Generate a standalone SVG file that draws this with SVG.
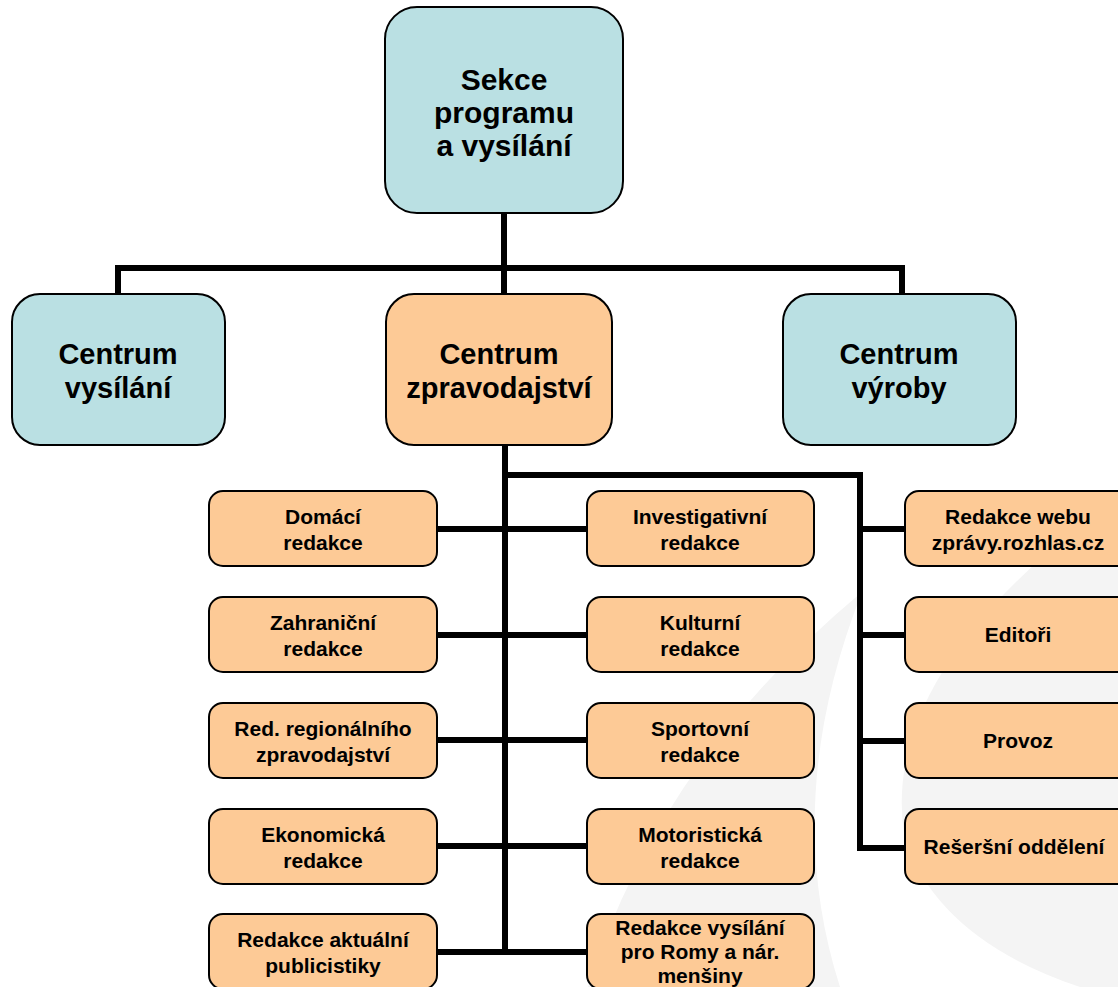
<svg xmlns="http://www.w3.org/2000/svg" width="1118" height="987" viewBox="0 0 1118 987">
<style>
.bg{fill:#f4f4f4;stroke:none}
.blue{fill:#bae0e3;stroke:#000;stroke-width:2}
.orange{fill:#fdca96;stroke:#000;stroke-width:2}
text{font-family:"Liberation Sans",Arial,sans-serif;font-weight:bold;fill:#000;text-anchor:middle}
.t1{font-size:30px}
.t2{font-size:29px}
.t3{font-size:21px}
.conn{fill:none;stroke:#000;stroke-width:6;stroke-linecap:butt;stroke-linejoin:miter}
</style>
<rect x="0" y="0" width="1118" height="987" fill="#fff"/>
<g id="watermark">
<path class="bg" d="M 862 592 Q 660 760 588 987 L 840 987 Q 780 800 862 592 Z"/>
<path class="bg" d="M 1045 555 Q 880 700 905 840 Q 940 940 1080 987 L 1118 987 L 1118 560 Z"/>
</g>
<g id="connectors">
<path class="conn" d="M 504 213 V 294 M 118 294 V 268 H 902 V 294"/>
<path class="conn" d="M 505 445 V 955 M 505 475 H 860 V 851"/>
<path class="conn" d="M 437 529 H 587 M 437 635 H 587 M 437 740 H 587 M 437 846 H 587 M 437 952 H 587"/>
<path class="conn" d="M 860 529 H 905 M 860 635 H 905 M 860 741 H 905 M 860 848 H 905"/>
</g>
<g id="n-sekce">
<rect class="blue" x="385" y="7" width="238" height="206" rx="32"/>
<text class="t1" x="504" y="90">Sekce</text>
<text class="t1" x="504" y="123">programu</text>
<text class="t1" x="504" y="156">a vysílání</text>
</g>
<g id="n-vysilani">
<rect class="blue" x="12" y="294" width="213" height="151" rx="28"/>
<text class="t2" x="118" y="364">Centrum</text>
<text class="t2" x="118" y="398">vysílání</text>
</g>
<g id="n-zpravodajstvi">
<rect class="orange" x="386" y="294" width="226" height="151" rx="28"/>
<text class="t2" x="499" y="364">Centrum</text>
<text class="t2" x="499" y="398">zpravodajství</text>
</g>
<g id="n-vyroby">
<rect class="blue" x="783" y="294" width="233" height="151" rx="28"/>
<text class="t2" x="899" y="364">Centrum</text>
<text class="t2" x="899" y="398">výroby</text>
</g>
<g id="n-domaci">
<rect class="orange" x="209" y="491" width="228" height="75" rx="14"/>
<text class="t3" x="323" y="524">Domácí</text>
<text class="t3" x="323" y="550">redakce</text>
</g>
<g id="n-zahranicni">
<rect class="orange" x="209" y="597" width="228" height="75" rx="14"/>
<text class="t3" x="323" y="630">Zahraniční</text>
<text class="t3" x="323" y="656">redakce</text>
</g>
<g id="n-regionalni">
<rect class="orange" x="209" y="703" width="228" height="75" rx="14"/>
<text class="t3" x="323" y="736">Red. regionálního</text>
<text class="t3" x="323" y="762">zpravodajství</text>
</g>
<g id="n-ekonomicka">
<rect class="orange" x="209" y="809" width="228" height="75" rx="14"/>
<text class="t3" x="323" y="842">Ekonomická</text>
<text class="t3" x="323" y="868">redakce</text>
</g>
<g id="n-aktualni">
<rect class="orange" x="209" y="914" width="228" height="75" rx="14"/>
<text class="t3" x="323" y="947">Redakce aktuální</text>
<text class="t3" x="323" y="973">publicistiky</text>
</g>
<g id="n-investigativni">
<rect class="orange" x="587" y="491" width="227" height="75" rx="14"/>
<text class="t3" x="700" y="524">Investigativní</text>
<text class="t3" x="700" y="550">redakce</text>
</g>
<g id="n-kulturni">
<rect class="orange" x="587" y="597" width="227" height="75" rx="14"/>
<text class="t3" x="700" y="630">Kulturní</text>
<text class="t3" x="700" y="656">redakce</text>
</g>
<g id="n-sportovni">
<rect class="orange" x="587" y="703" width="227" height="75" rx="14"/>
<text class="t3" x="700" y="736">Sportovní</text>
<text class="t3" x="700" y="762">redakce</text>
</g>
<g id="n-motoristicka">
<rect class="orange" x="587" y="809" width="227" height="75" rx="14"/>
<text class="t3" x="700" y="842">Motoristická</text>
<text class="t3" x="700" y="868">redakce</text>
</g>
<g id="n-romy">
<rect class="orange" x="587" y="914" width="227" height="75" rx="14"/>
<text class="t3" x="700" y="935">Redakce vysílání</text>
<text class="t3" x="700" y="959">pro Romy a nár.</text>
<text class="t3" x="700" y="983">menšiny</text>
</g>
<g id="n-web">
<rect class="orange" x="905" y="491" width="228" height="75" rx="14"/>
<text class="t3" x="1018" y="524">Redakce webu</text>
<text class="t3" x="1018" y="550">zprávy.rozhlas.cz</text>
</g>
<g id="n-editori">
<rect class="orange" x="905" y="597" width="228" height="75" rx="14"/>
<text class="t3" x="1018" y="642">Editoři</text>
</g>
<g id="n-provoz">
<rect class="orange" x="905" y="703" width="228" height="75" rx="14"/>
<text class="t3" x="1018" y="748">Provoz</text>
</g>
<g id="n-reserse">
<rect class="orange" x="905" y="809" width="228" height="75" rx="14"/>
<text class="t3" x="1014" y="854">Rešeršní oddělení</text>
</g>
</svg>
